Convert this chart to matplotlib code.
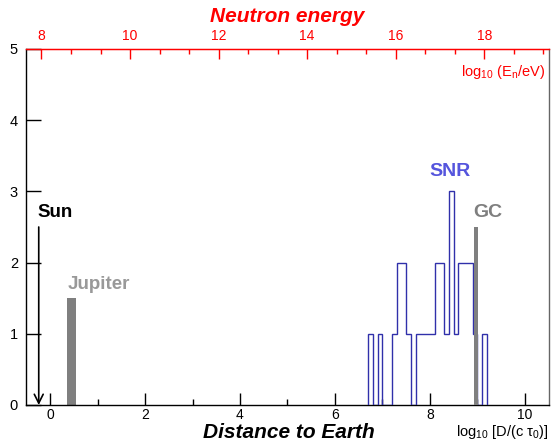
import numpy as np
import matplotlib
matplotlib.use("Agg")
import matplotlib.pyplot as plt
from matplotlib.ticker import MultipleLocator, FixedLocator

plt.rcParams['font.family'] = ['Liberation Sans', 'DejaVu Sans']
plt.rcParams['mathtext.fontset'] = 'custom'
plt.rcParams['mathtext.rm'] = 'Liberation Sans'
plt.rcParams['mathtext.it'] = 'Liberation Sans:italic'
plt.rcParams['mathtext.bf'] = 'Liberation Sans:bold'
plt.rcParams['mathtext.default'] = 'regular'

# SNR histogram (log10 D bins, width 0.1)
snr_edges = np.round(np.arange(6.7, 9.2001, 0.1), 2)
snr_counts = [1, 0, 1, 0, 0, 1, 2, 2, 1, 0, 1, 1, 1, 1, 2, 2, 1, 3, 1, 2, 2, 2, 1, 0, 1]

# Single objects
sun_x, sun_h = -0.24, 2.5
jupiter_x, jupiter_h = 0.45, 1.5
gc_x, gc_h = 8.97, 2.5

bottom_ticks = [0, 2, 4, 6, 8, 10]
top_ticks = [8, 10, 12, 14, 16, 18]
y_ticks = [0, 1, 2, 3, 4, 5]

fig = plt.figure(figsize=(5.51, 4.43), dpi=100)
ax = fig.add_axes([26.4/551, 1-405/443, (548.5-26.4)/551, (405-49)/443])
ax.set_xlim(-0.5, 10.5)
ax.set_ylim(0, 5)

ax.stairs(snr_counts, snr_edges, baseline=0, color='#3030aa', lw=1.0, zorder=3)
ax.bar([jupiter_x], [jupiter_h], width=0.17, color='#7f7f7f', zorder=2)
ax.bar([gc_x], [gc_h], width=0.085, color='#7f7f7f', zorder=4)
ax.annotate('', xy=(sun_x, 0), xytext=(sun_x, sun_h),
            arrowprops=dict(arrowstyle='->', color='black', lw=1.2, mutation_scale=16, shrinkA=0, shrinkB=0))

ax.text(-0.26, 2.70, 'Sun', fontsize=13.5, fontweight='bold', color='black', ha='left', va='center')
ax.text(0.37, 1.69, 'Jupiter', fontsize=13.5, fontweight='bold', color='#999999', ha='left', va='center')
ax.text(8.0, 3.28, 'SNR', fontsize=14, fontweight='bold', color='#5555dd', ha='left', va='center')
ax.text(8.92, 2.70, 'GC', fontsize=14, fontweight='bold', color='#7f7f7f', ha='left', va='center')

# axes styling
ax.spines['left'].set_color('black')
ax.spines['bottom'].set_color('black')
ax.spines['top'].set_color('red')
ax.spines['right'].set_color('#666666')
for s in ax.spines.values():
    s.set_linewidth(1.0)

ax.xaxis.set_major_locator(FixedLocator(bottom_ticks))
ax.xaxis.set_minor_locator(MultipleLocator(1))
ax.yaxis.set_major_locator(FixedLocator(y_ticks))
ax.tick_params(axis='x', which='major', direction='in', length=8.5, width=1, labelsize=10, pad=2, top=False)
ax.tick_params(axis='x', which='minor', direction='in', length=4.5, width=1, top=False)
ax.tick_params(axis='y', which='major', direction='in', length=11, width=1, labelsize=10.5, pad=6, right=False)
ax.tick_params(axis='y', which='minor', left=False, right=False)

# top axis: neutron energy
ax2 = ax.twiny()
ax2.set_xlim(7.66, 19.45)
ax2.xaxis.set_major_locator(FixedLocator(top_ticks))
ax2.xaxis.set_minor_locator(MultipleLocator(2/3))
ax2.tick_params(axis='x', which='major', direction='in', length=7.2, width=1, colors='red', labelsize=10, pad=4)
ax2.tick_params(axis='x', which='minor', direction='in', length=3.6, width=1, colors='red')
for s in ax2.spines.values():
    s.set_visible(False)
ax2.spines['top'].set_visible(True)
ax2.spines['top'].set_color('red')

fig.text(287/551, 1-17/443, 'Neutron energy', fontsize=15, fontweight='bold', fontstyle='italic',
         color='red', ha='center', va='center')
fig.text(289/551, 1-432/443, 'Distance to Earth', fontsize=15, fontweight='bold', fontstyle='italic',
         color='black', ha='center', va='center')
fig.text(545/551, 1-72/443, 'log$_{10}$ (E$_{n}$/eV)', fontsize=10.5, color='red', ha='right', va='center')
fig.text(548/551, 1-432/443, 'log$_{10}$ [D/(c τ$_{0}$)]', fontsize=10.5, color='black', ha='right', va='center')

fig.savefig('out.png', dpi=100)
